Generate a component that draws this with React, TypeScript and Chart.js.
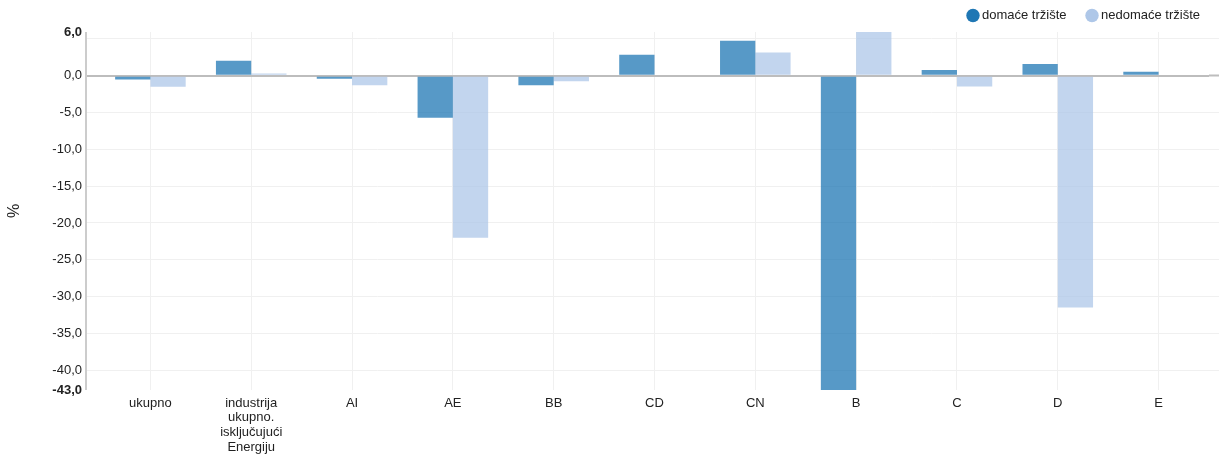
import React, { useEffect, useRef } from "react";
import { Chart, registerables } from "chart.js";

Chart.register(...registerables);

const categories: string[][] = [
  ["ukupno"],
  ["industrija", "ukupno.", "isključujući", "Energiju"],
  ["AI"],
  ["AE"],
  ["BB"],
  ["CD"],
  ["CN"],
  ["B"],
  ["C"],
  ["D"],
  ["E"],
];
const seriesNames = ["domaće tržište", "nedomaće tržište"];
const domace = [-0.5, 2.05, -0.4, -5.7, -1.3, 2.85, 4.75, -42.7, 0.8, 1.6, 0.55];
const nedomace = [-1.5, 0.3, -1.3, -22.0, -0.75, 0.15, 3.15, 5.95, -1.45, -31.5, 0.15];
const yGridValues = [5, 0, -5, -10, -15, -20, -25, -30, -35, -40];
const yTitle = "%";

const solidColors = ["#1f77b4", "#aec7e8"];
const barColors = ["rgba(31,119,180,0.75)", "rgba(174,199,232,0.75)"];

const FONT = "'Liberation Sans', Arial, sans-serif";

export default function App() {
  const ref = useRef<HTMLCanvasElement | null>(null);

  useEffect(() => {
    if (!ref.current) return;
    const all = [...domace, ...nedomace];
    const yMin = Math.min(...all);
    const yMax = Math.max(...all);
    const fmt = (v: number) => {
      let n = v;
      if (v === yMax) n = Math.ceil(v);
      else if (v === yMin) n = Math.floor(v);
      return n.toFixed(1).replace(".", ",");
    };
    const buildTicks = (scale: any) => {
      scale.ticks = [yMax, ...yGridValues, yMin].map((v) => ({ value: v }));
    };
    const gridColor = (ctx: any) => {
      const v = ctx.tick?.value;
      if (v === 0) return "#bdbdbd";
      if (v === yMin || v === yMax) return "rgba(0,0,0,0)";
      return "#f0f0f0";
    };
    const gridWidth = (ctx: any) => (ctx.tick?.value === 0 ? 2 : 1);

    const axisLinePlugin = {
      id: "axisLine",
      beforeInit(chart: any) {
        const lg = chart.legend;
        if (lg) {
          const origFit = lg.fit.bind(lg);
          lg.fit = function () {
            origFit();
            this.height = 32;
          };
          lg.draw = function () {
            if (!this.options.display) return;
            const c = this.ctx;
            c.save();
            c.translate(4, -14);
            this._draw();
            c.restore();
          };
        }
      },
      afterDatasetsDraw(chart: any) {
        const { ctx, chartArea } = chart;
        ctx.save();
        ctx.strokeStyle = "#cccccc";
        ctx.lineWidth = 2;
        ctx.beginPath();
        ctx.moveTo(chartArea.left - 14, chartArea.top);
        ctx.lineTo(chartArea.left - 14, chartArea.bottom);
        ctx.stroke();
        ctx.restore();
      },
    };

    const chart = new Chart(ref.current, {
      type: "bar",
      data: {
        labels: categories,
        datasets: [
          {
            label: seriesNames[0],
            data: domace,
            backgroundColor: barColors[0],
            borderWidth: 0,
            categoryPercentage: 0.7,
            barPercentage: 1.0,
          },
          {
            label: seriesNames[1],
            data: nedomace,
            backgroundColor: barColors[1],
            borderWidth: 0,
            categoryPercentage: 0.7,
            barPercentage: 1.0,
          },
        ],
      },
      options: {
        animation: false,
        responsive: false,
        maintainAspectRatio: false,
        layout: { padding: 0 },
        plugins: {
          tooltip: { enabled: false },
          legend: {
            position: "top",
            align: "end",
            labels: {
              usePointStyle: true,
              pointStyle: "circle",
              boxWidth: 5,
              boxHeight: 9.5,
              padding: 23,
              color: "#222",
              font: { family: FONT, size: 13 },
              generateLabels(chart: any) {
                const items = Chart.defaults.plugins.legend.labels.generateLabels(chart);
                return items.map((it: any, i: number) => ({
                  ...it,
                  fillStyle: solidColors[i],
                  strokeStyle: solidColors[i],
                  lineWidth: 0,
                }));
              },
            },
          },
        },
        scales: {
          x: {
            grid: {
              offset: false,
              drawTicks: false,
              color: "#f0f0f0",
              lineWidth: 1,
            },
            border: { display: false },
            ticks: {
              color: "#222",
              font: { family: FONT, size: 13, lineHeight: 1.12 },
              padding: 6,
              maxRotation: 0,
              autoSkip: false,
            },
            afterFit(scale: any) {
              scale.height = 66;
            },
          },
          y: {
            position: "left",
            min: yMin,
            max: yMax,
            afterBuildTicks: buildTicks,
            grid: {
              color: gridColor,
              lineWidth: gridWidth,
              tickLength: 14,
              tickColor: gridColor,
              tickWidth: gridWidth,
            },
            border: { display: false },
            title: {
              display: true,
              text: yTitle,
              color: "#222",
              font: { family: FONT, size: 16 },
              padding: { top: 5, bottom: 0 },
            },
            ticks: {
              color: "#222",
              padding: 4,
              font: (ctx: any) => ({
                family: FONT,
                size: 13,
                weight: ctx.tick && (ctx.tick.value === yMin || ctx.tick.value === yMax) ? "bold" : "normal",
              }),
              callback: (v: any) => (v === 5 ? "" : fmt(Number(v))),
            },
            afterFit(scale: any) {
              scale.width = 100;
            },
          },
          y2: {
            position: "right",
            min: yMin,
            max: yMax,
            afterBuildTicks: buildTicks,
            grid: {
              drawOnChartArea: false,
              drawTicks: true,
              tickLength: 10,
              tickColor: gridColor,
              tickWidth: gridWidth,
              color: gridColor,
            },
            border: { display: false },
            ticks: { display: false },
            afterFit(scale: any) {
              scale.width = 10;
            },
          },
        },
      },
      plugins: [axisLinePlugin],
    } as any);
    return () => chart.destroy();
  }, []);

  return (
    <div style={{ position: "absolute", left: 0, top: 0, width: 1219, height: 456 }}>
      <canvas ref={ref} width={1219} height={456} style={{ width: 1219, height: 456 }} />
    </div>
  );
}
